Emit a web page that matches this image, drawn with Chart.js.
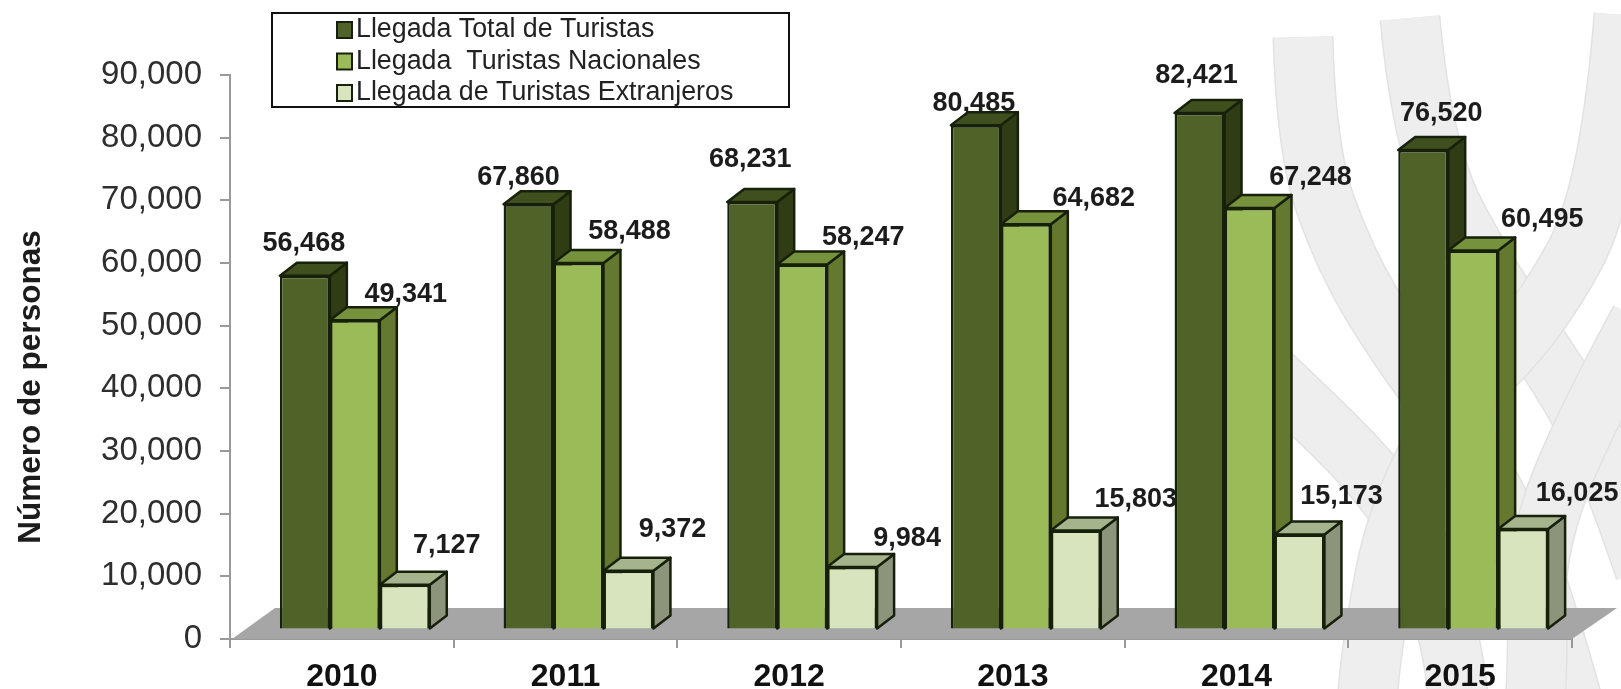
<!DOCTYPE html>
<html>
<head>
<meta charset="utf-8">
<title>Llegada de turistas</title>
<script src="https://cdn.jsdelivr.net/npm/chart.js@4/dist/chart.umd.min.js"></script>
<style>
  html, body { margin: 0; padding: 0; background: #fff; overflow: hidden; }
  canvas { display: block; }
</style>
</head>
<body>
<canvas id="turistas" width="1621" height="689"></canvas>
<script>
const years = ["2010", "2011", "2012", "2013", "2014", "2015"];
const totalTuristas = [56468, 67860, 68231, 80485, 82421, 76520];
const turistasNacionales = [49341, 58488, 58247, 64682, 67248, 60495];
const turistasExtranjeros = [7127, 9372, 9984, 15803, 15173, 16025];
const yTicks = [0, 10000, 20000, 30000, 40000, 50000, 60000, 70000, 80000, 90000];
const yTitle = "Número de personas";

// hand placed value labels, offset from the top centre of each bar front
const labelDx = [
  [-1, -10, -2, -2, -3, 18],
  [51, 51, 61, 68, 61, 69],
  [42, 44, 55, 60, 42, 54]
];
const labelDy = [
  [-32, -27, -42, -22, -37, -36],
  [-26, -31, -27, -26, -31, -31],
  [-39, -41, -28, -31, -38, -36]
];

const faces = [
  { front: "#4f6228", top: "#3f4f1e", side: "#2f3c14" },
  { front: "#9bbb59", top: "#76923c", side: "#64782f" },
  { front: "#d7e4bd", top: "#a6b48e", side: "#8c957b" }
];
const edge = "#16200a";
const shiftX = 13, shiftY = -9.5;   // bars sit further back on the floor
const depthX = 17, depthY = 13;

// watermark bands behind the chart, traced as centre lines
const bands = [
  [[1303, 37], [1306, 150], [1345, 260], [1398, 348], [1460, 430], [1530, 560], [1555, 640], [1575, 710]],
  [[1410, 18], [1422, 150], [1490, 280], [1560, 375], [1610, 470], [1645, 570]],
  [[1640, 320], [1570, 450], [1535, 560], [1538, 640], [1535, 710]],
  [[1250, 355], [1293, 395], [1370, 470], [1420, 540], [1451, 640], [1460, 710]],
  [[1624, 15], [1610, 190], [1540, 320], [1450, 410], [1395, 520], [1373, 640], [1366, 710]]
];

function traceBand(c, pts) {
  c.beginPath();
  c.moveTo(pts[0][0], pts[0][1]);
  for (let i = 1; i < pts.length - 1; i++) {
    c.quadraticCurveTo(pts[i][0], pts[i][1], (pts[i][0] + pts[i + 1][0]) / 2, (pts[i][1] + pts[i + 1][1]) / 2);
  }
  const last = pts[pts.length - 1];
  c.lineTo(last[0], last[1]);
}

const backdrop = {
  id: "backdrop",
  beforeDraw(chart) {
    const c = chart.ctx;
    c.save();
    bands.forEach(b => {
      traceBand(c, b);
      c.strokeStyle = "#e2e2e2";
      c.lineWidth = 61;
      c.stroke();
      traceBand(c, b);
      c.strokeStyle = "#eeeeee";
      c.lineWidth = 58;
      c.stroke();
    });
    c.restore();
  }
};

const floor3d = {
  id: "floor3d",
  beforeDatasetsDraw(chart) {
    const c = chart.ctx, a = chart.chartArea;
    // floor
    c.save();
    c.fillStyle = "#a6a6a6";
    c.beginPath();
    c.moveTo(a.left + 2, a.bottom);
    c.lineTo(a.right, a.bottom);
    c.lineTo(a.right + 45, a.bottom - 31);
    c.lineTo(a.left + 45, a.bottom - 31);
    c.closePath();
    c.fill();
    c.restore();

    c.save();
    c.translate(shiftX, shiftY);
    // sides and tops first, the fronts then come from Chart.js
    c.lineWidth = 2.5;
    c.lineJoin = "round";
    c.strokeStyle = edge;
    chart.data.datasets.forEach((ds, i) => {
      chart.getDatasetMeta(i).data.forEach(bar => {
        const l = bar.x - bar.width / 2, r = bar.x + bar.width / 2;
        c.fillStyle = faces[i].side;
        c.beginPath();
        c.moveTo(r, bar.y);
        c.lineTo(r + depthX, bar.y - depthY);
        c.lineTo(r + depthX, bar.base - depthY);
        c.lineTo(r, bar.base);
        c.closePath();
        c.fill();
        c.stroke();
        c.fillStyle = faces[i].top;
        c.beginPath();
        c.moveTo(l, bar.y);
        c.lineTo(l + depthX, bar.y - depthY);
        c.lineTo(r + depthX, bar.y - depthY);
        c.lineTo(r, bar.y);
        c.closePath();
        c.fill();
        c.stroke();
      });
    });
  },
  afterDatasetsDraw(chart) {
    chart.ctx.restore();
  }
};

const valueLabels = {
  id: "valueLabels",
  afterDraw(chart) {
    const c = chart.ctx;
    c.save();
    c.font = "bold 27px 'Liberation Sans'";
    c.fillStyle = "#1c1c1c";
    c.textAlign = "center";
    c.textBaseline = "middle";
    chart.data.datasets.forEach((ds, i) => {
      chart.getDatasetMeta(i).data.forEach((bar, j) => {
        c.fillText(ds.data[j].toLocaleString("en-US"),
          bar.x + shiftX + labelDx[i][j], bar.y + shiftY + labelDy[i][j]);
      });
    });
    // axis title sits below the middle of the axis, so it is placed here
    c.translate(31, 387);
    c.rotate(-Math.PI / 2);
    c.font = "bold 31.5px 'Liberation Sans'";
    c.fillText(yTitle, 0, 0);
    c.restore();
  }
};

const boxLegend = {
  id: "boxLegend",
  afterDraw(chart) {
    const c = chart.ctx;
    c.save();
    c.fillStyle = "#fff";
    c.fillRect(272, 13, 517, 94);
    c.lineWidth = 2;
    c.strokeStyle = "#111";
    c.strokeRect(272, 13, 517, 94);
    c.font = "26.8px 'Liberation Sans'";
    c.textBaseline = "middle";
    chart.data.datasets.forEach((ds, i) => {
      const y = 30 + i * 31.5;
      c.fillStyle = faces[i].front;
      c.strokeStyle = edge;
      c.fillRect(337, y - 8, 15, 16);
      c.strokeRect(337, y - 8, 15, 16);
      c.fillStyle = "#222";
      c.fillText(ds.label, 356, y);
    });
    c.restore();
  }
};

const ctx = document.getElementById("turistas").getContext("2d");
new Chart(ctx, {
  type: "bar",
  data: {
    labels: years,
    datasets: [
      { label: "Llegada Total de Turistas", data: totalTuristas, backgroundColor: faces[0].front },
      { label: "Llegada  Turistas Nacionales", data: turistasNacionales, backgroundColor: faces[1].front },
      { label: "Llegada de Turistas Extranjeros", data: turistasExtranjeros, backgroundColor: faces[2].front }
    ].map(ds => Object.assign(ds, { borderColor: edge, borderWidth: 2.5, clip: false }))
  },
  options: {
    responsive: false,
    animation: false,
    categoryPercentage: 0.67,
    barPercentage: 1,
    layout: { padding: { top: 75, right: 49, bottom: 0, left: 0 } },
    plugins: { legend: { display: false }, tooltip: { enabled: false } },
    scales: {
      x: {
        afterFit(s) { s.height = 50; },
        border: { color: "#999", width: 2 },
        grid: { drawOnChartArea: false, color: "#999", lineWidth: 2, tickLength: 9 },
        ticks: { color: "#111", font: { family: "Liberation Sans", size: 32, weight: "bold" }, padding: 10, maxRotation: 0 }
      },
      y: {
        min: 0,
        max: 90000,
        afterFit(s) { s.width = 230; },
        afterBuildTicks(s) { s.ticks = yTicks.map(v => ({ value: v })); },
        border: { color: "#999", width: 2 },
        grid: { drawOnChartArea: false, color: "#999", lineWidth: 2, tickLength: 10 },
        ticks: {
          color: "#2e2e2e",
          font: { family: "Liberation Sans", size: 33 },
          padding: 18,
          callback: v => v.toLocaleString("en-US")
        }
      }
    }
  },
  plugins: [backdrop, floor3d, valueLabels, boxLegend]
});
</script>
</body>
</html>
